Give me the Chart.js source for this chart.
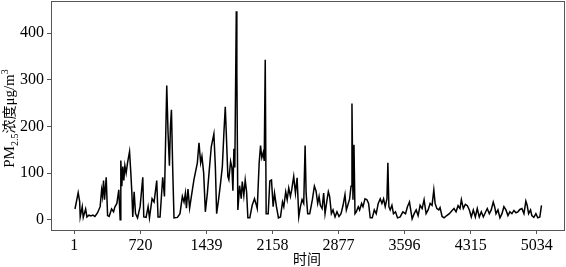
<!DOCTYPE html>
<html>
<head>
<meta charset="utf-8">
<script src="https://cdn.jsdelivr.net/npm/chart.js@4/dist/chart.umd.min.js"></script>
<style>
  html, body { margin: 0; padding: 0; background: #fff; }
</style>
</head>
<body>
<canvas id="pmChart" width="566" height="267"></canvas>
<script>
// time step (hour index) and PM2.5 values
const TIME_INDEX = [
  8, 43, 59, 65, 87, 98, 124, 138, 160, 181, 203, 225, 254, 282, 298, 308, 319, 330, 348, 363,
  380, 406, 428, 442, 464, 485, 500, 507, 518, 529, 540, 551, 565, 580, 602, 616, 627, 637, 652, 667,
  689, 717, 746, 757, 782, 804, 819, 847, 869, 898, 912, 934, 963, 982, 1007, 1021, 1036, 1047, 1058, 1072,
  1086, 1123, 1151, 1177, 1195, 1210, 1221, 1238, 1256, 1275, 1303, 1340, 1358, 1376, 1390, 1409, 1427, 1449, 1470, 1492,
  1520, 1536, 1550, 1571, 1593, 1612, 1629, 1644, 1655, 1672, 1683, 1702, 1716, 1727, 1738, 1748, 1764, 1770, 1781, 1800,
  1818, 1829, 1846, 1861, 1876, 1890, 1911, 1937, 1962, 1977, 1992, 2013, 2028, 2042, 2057, 2068, 2079, 2089, 2111, 2129,
  2147, 2165, 2180, 2201, 2223, 2245, 2267, 2281, 2302, 2318, 2335, 2353, 2367, 2389, 2408, 2426, 2444, 2462, 2480, 2498,
  2513, 2524, 2541, 2563, 2578, 2592, 2614, 2632, 2650, 2665, 2679, 2698, 2715, 2730, 2752, 2766, 2780, 2799, 2817, 2839,
  2860, 2882, 2904, 2926, 2947, 2962, 2983, 2997, 3013, 3023, 3034, 3045, 3056, 3070, 3092, 3106, 3128, 3143, 3165, 3186,
  3204, 3222, 3244, 3266, 3287, 3309, 3331, 3349, 3367, 3385, 3404, 3414, 3425, 3439, 3458, 3475, 3497, 3519, 3548, 3577,
  3606, 3627, 3649, 3657, 3678, 3700, 3722, 3743, 3765, 3787, 3808, 3830, 3852, 3874, 3895, 3914, 3928, 3947, 3968, 3982,
  4004, 4026, 4055, 4083, 4113, 4134, 4156, 4178, 4199, 4214, 4235, 4257, 4279, 4301, 4322, 4344, 4366, 4387, 4409, 4431,
  4453, 4474, 4496, 4518, 4539, 4561, 4576, 4591, 4612, 4634, 4656, 4677, 4699, 4721, 4742, 4764, 4786, 4808, 4829, 4851,
  4873, 4895, 4916, 4930, 4946, 4967, 4981, 5003, 5025, 5046, 5068, 5086
];
const PM25 = [
  23, 58, 39, 6, 28, 5, 23, 6, 10, 8, 10, 7, 15, 28, 64, 50, 84, 43, 91, 9,
  7, 23, 17, 27, 35, 64, 0, 127, 72, 114, 84, 116, 100, 122, 146, 100, 59, 6, 60, 13,
  4, 28, 91, 6, 5, 28, 4, 45, 38, 84, 6, 6, 91, 50, 288, 187, 116, 200, 236, 107,
  4, 5, 13, 50, 38, 57, 25, 66, 25, 50, 86, 122, 165, 122, 136, 100, 17, 57, 107, 157,
  184, 114, 13, 43, 79, 114, 186, 242, 186, 93, 86, 125, 112, 62, 152, 112, 447, 315, 21, 73,
  45, 82, 52, 85, 60, 4, 4, 31, 45, 35, 24, 122, 159, 133, 144, 126, 343, 13, 13, 83,
  85, 28, 57, 28, 4, 6, 38, 28, 60, 43, 68, 50, 64, 93, 57, 90, 6, 28, 43, 35,
  159, 57, 13, 13, 28, 43, 72, 62, 35, 50, 31, 24, 57, 13, 43, 60, 50, 13, 21, 6,
  17, 7, 13, 31, 54, 21, 35, 44, 72, 249, 43, 161, 13, 17, 28, 21, 35, 28, 45, 43,
  35, 4, 4, 21, 13, 35, 45, 35, 45, 28, 45, 122, 28, 21, 31, 13, 17, 4, 6, 17,
  13, 28, 38, 28, 2, 13, 21, 9, 31, 24, 43, 13, 21, 35, 31, 64, 35, 24, 21, 26,
  7, 4, 9, 13, 20, 24, 17, 30, 24, 43, 24, 33, 30, 21, 6, 21, 6, 24, 6, 17,
  6, 15, 24, 13, 21, 38, 28, 13, 21, 4, 13, 28, 21, 9, 17, 13, 20, 15, 17, 22,
  24, 13, 40, 31, 13, 21, 9, 5, 13, 4, 6, 31
];
const X_TICKS = [1, 720, 1439, 2158, 2877, 3596, 4315, 5034];
const Y_TICKS = [0, 100, 200, 300, 400];

const SERIF = "'Liberation Serif', 'DejaVu Serif', serif";
const CJK = "'Noto Sans CJK SC', sans-serif";
const AXIS_COLOR = '#555555';
const LINE_COLOR = '#000000';

const TICK_FONT = { family: SERIF, size: 16 };

// frame round the plot area plus the two axis titles
const framePlugin = {
  id: 'frame',
  afterDraw(chart) {
    const { ctx, chartArea: a } = chart;
    ctx.save();
    ctx.strokeStyle = AXIS_COLOR;
    ctx.lineWidth = 1;
    ctx.strokeRect(a.left + 0.5, a.top + 0.5, a.right - a.left - 1, a.bottom - a.top);

    // x title
    ctx.fillStyle = '#000';
    ctx.font = `14px ${CJK}`;
    ctx.textAlign = 'center';
    ctx.textBaseline = 'middle';
    ctx.fillText('时间', (a.left + a.right) / 2 - 1, 259);

    // y title with sub/superscript, rotated
    const parts = [
      { t: 'PM', font: `15px ${SERIF}`, dy: 0 },
      { t: '2.5', font: `10px ${SERIF}`, dy: 4 },
      { t: '浓度', font: `14px ${CJK}`, dy: 0 },
      { t: 'μg/m', font: `15px ${SERIF}`, dy: 0 },
      { t: '3', font: `10px ${SERIF}`, dy: -6 },
    ];
    let total = 0;
    parts.forEach((p) => {
      ctx.font = p.font;
      p.w = ctx.measureText(p.t).width;
      total += p.w;
    });
    ctx.translate(9, (a.top + a.bottom) / 2 + 3);
    ctx.rotate(-Math.PI / 2);
    ctx.textAlign = 'left';
    ctx.textBaseline = 'alphabetic';
    let x = -total / 2;
    parts.forEach((p) => {
      ctx.font = p.font;
      ctx.fillText(p.t, x, 5 + p.dy);
      x += p.w;
    });
    ctx.restore();
  },
};

const DATASET = {
  data: TIME_INDEX.map((t, i) => ({ x: t, y: PM25[i] })),
  borderColor: LINE_COLOR,
  borderWidth: 1.5,
  pointRadius: 0,
  tension: 0,
  fill: false,
};

const SCALES = {
  x: {
    type: 'linear',
    min: -253,
    max: 5342,
    afterBuildTicks: (s) => { s.ticks = X_TICKS.map((v) => ({ value: v })); },
    afterFit: (s) => { s.height = 37; s.paddingLeft = 0; s.paddingRight = 0; },
    grid: { drawOnChartArea: false, tickLength: 4, color: AXIS_COLOR },
    border: { display: false },
    ticks: {
      font: TICK_FONT, color: '#000', padding: 2, maxRotation: 0, autoSkip: false,
      callback: (v) => String(v),
    },
  },
  y: {
    min: -22,
    max: 469,
    afterBuildTicks: (s) => { s.ticks = Y_TICKS.map((v) => ({ value: v })); },
    afterFit: (s) => { s.width = 51; s.paddingTop = 0; s.paddingBottom = 0; },
    grid: { drawOnChartArea: false, tickLength: 4, color: AXIS_COLOR },
    border: { display: false },
    ticks: { font: TICK_FONT, color: '#000', padding: 3, callback: (v) => String(v) },
  },
};

new Chart(document.getElementById('pmChart'), {
  type: 'line',
  data: { datasets: [DATASET] },
  options: {
    responsive: false,
    animation: false,
    scales: SCALES,
    plugins: { legend: { display: false }, tooltip: { enabled: false } },
    layout: { padding: { top: 1, right: 1, left: 0, bottom: 0 } },
  },
  plugins: [framePlugin],
});
</script>
</body>
</html>
